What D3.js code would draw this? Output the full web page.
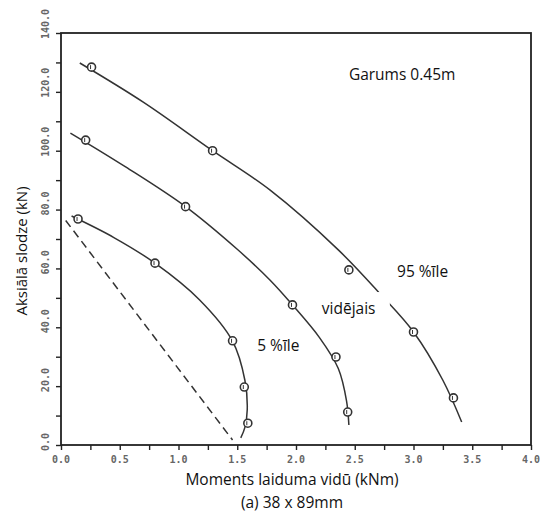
<!DOCTYPE html>
<meta charset="utf-8">
<script src="https://d3js.org/d3.v7.min.js"></script>
<style>
  body { margin: 0; background: #fff; }
</style>
<div id="my_dataviz"></div>
<script>

// markers: [moment kNm, load kN]
var p95Points = [[0.26, 128.4], [1.29, 100.0], [2.45, 59.5], [3.00, 38.4], [3.34, 16.0]];
var meanPoints = [[0.21, 103.6], [1.06, 81.0], [1.97, 47.6], [2.34, 29.9], [2.44, 11.2]];
var p5Points = [[0.145, 76.8], [0.80, 61.8], [1.46, 35.4], [1.56, 19.7], [1.59, 7.4]];

// fitted curves (as traced)
var p95Curve = [[0.16, 129.8], [0.70, 116.5], [1.29, 100.0], [1.78, 86.6], [2.36, 66.3], [2.71, 51.6], [3.00, 38.4], [3.25, 22.0], [3.41, 7.8]];
var meanCurve = [[0.08, 106.0], [0.55, 94.5], [1.06, 81.0], [1.50, 66.5], [1.78, 56.0], [1.97, 47.6], [2.20, 36.5], [2.36, 26.0], [2.43, 15.0], [2.45, 6.8]];
var p5Curve = [[0.09, 77.8], [0.45, 70.5], [0.80, 61.8], [1.18, 49.3], [1.46, 35.3], [1.565, 22.0], [1.585, 12.0], [1.565, 6.0], [1.53, 2.4]];
var dashLine = [[0.04, 76.3], [1.46, 1.7]];

var xTicks = [0, 0.5, 1.0, 1.5, 2.0, 2.5, 3.0, 3.5, 4.0];
var yTicks = [0, 20, 40, 60, 80, 100, 120, 140];

var labels = [
  {text: "Garums 0.45m", x: 2.45, y: 124},
  {text: "95 %īle", x: 2.86, y: 57},
  {text: "vidējais", x: 2.22, y: 44.5},
  {text: "5 %īle", x: 1.67, y: 32}
];

var width = 540, height = 514;
var margin = {top: 33, right: 9, bottom: 69, left: 61};

var svg = d3.select("#my_dataviz")
  .append("svg")
    .attr("width", width)
    .attr("height", height);

var x = d3.scaleLinear().domain([0, 4]).range([margin.left, width - margin.right]);
var y = d3.scaleLinear().domain([0, 140]).range([height - margin.bottom, margin.top]);

var tickFont = "'DejaVu Sans Mono', monospace";

// minor + major ticks
var xAxis = svg.append("g")
  .attr("transform", "translate(0," + y(0) + ")")
  .call(d3.axisBottom(x).tickValues(d3.range(0, 4.01, 0.25)).tickSize(5).tickFormat(""));
xAxis.select(".domain").remove();
xAxis.selectAll("line").attr("stroke", "#222").attr("stroke-width", 1.4);

svg.append("g")
  .selectAll("text")
  .data(xTicks)
  .enter()
  .append("text")
    .attr("x", function(d) { return x(d); })
    .attr("y", y(0) + 18)
    .attr("text-anchor", "middle")
    .style("font-family", tickFont)
    .style("font-size", "10px")
    .style("font-weight", "bold")
    .style("fill", "#666")
    .text(function(d) { return d3.format(".1f")(d); });

var yAxis = svg.append("g")
  .attr("transform", "translate(" + x(0) + ",0)")
  .call(d3.axisLeft(y).tickValues(d3.range(0, 141, 10)).tickSize(5).tickFormat(""));
yAxis.select(".domain").remove();
yAxis.selectAll("line").attr("stroke", "#222").attr("stroke-width", 1.4);

svg.append("g")
  .selectAll("text")
  .data(yTicks)
  .enter()
  .append("text")
    .attr("transform", function(d) { return "translate(49," + (y(d) + 6) + ") rotate(-90)"; })
    .attr("text-anchor", "start")
    .style("font-family", tickFont)
    .style("font-size", "10px")
    .style("font-weight", "bold")
    .style("fill", "#666")
    .text(function(d) { return d3.format(".1f")(d); });

// frame
svg.append("rect")
  .attr("x", x(0))
  .attr("y", y(140))
  .attr("width", x(4) - x(0))
  .attr("height", y(0) - y(140))
  .attr("fill", "none")
  .attr("stroke", "#222")
  .attr("stroke-width", 1.8);

var line = d3.line()
  .x(function(d) { return x(d[0]); })
  .y(function(d) { return y(d[1]); })
  .curve(d3.curveCatmullRom.alpha(0.5));

[p95Curve, meanCurve, p5Curve].forEach(function(c) {
  svg.append("path")
    .datum(c)
    .attr("d", line)
    .attr("fill", "none")
    .attr("stroke", "#333")
    .attr("stroke-width", 1.5);
});

svg.append("path")
  .datum(dashLine)
  .attr("d", d3.line().x(function(d) { return x(d[0]); }).y(function(d) { return y(d[1]); }))
  .attr("fill", "none")
  .attr("stroke", "#333")
  .attr("stroke-width", 1.5)
  .attr("stroke-dasharray", "8,5");

// markers
var allPoints = p95Points.concat(meanPoints, p5Points);
var marks = svg.append("g")
  .selectAll("g")
  .data(allPoints)
  .enter()
  .append("g")
    .attr("transform", function(d) { return "translate(" + x(d[0]) + "," + y(d[1]) + ")"; });
marks.append("circle")
  .attr("r", 4)
  .attr("fill", "white")
  .attr("stroke", "#333")
  .attr("stroke-width", 1.6);
marks.append("line")
  .attr("x1", -1).attr("x2", -1)
  .attr("y1", -2).attr("y2", 2)
  .attr("stroke", "#333")
  .attr("stroke-width", 1);

// annotations
var labelFont = "'Open Sans', Lato, sans-serif";
var vid = labels[2];
svg.append("rect")
  .attr("x", x(vid.x) - 10)
  .attr("y", y(vid.y) - 22)
  .attr("width", 78)
  .attr("height", 34)
  .attr("fill", "white");

svg.append("g")
  .selectAll("text")
  .data(labels)
  .enter()
  .append("text")
    .attr("x", function(d) { return x(d.x); })
    .attr("y", function(d) { return y(d.y); })
    .style("font-family", labelFont)
    .style("font-size", "15.5px")
    .style("fill", "#111")
    .text(function(d) { return d.text; });

// axis titles
svg.append("text")
  .attr("x", 292)
  .attr("y", 485)
  .attr("text-anchor", "middle")
  .style("font-family", labelFont)
  .style("font-size", "15.5px")
  .style("fill", "#111")
  .text("Moments laiduma vidū (kNm)");

svg.append("text")
  .attr("x", 292)
  .attr("y", 508)
  .attr("text-anchor", "middle")
  .style("font-family", labelFont)
  .style("font-size", "15.5px")
  .style("fill", "#111")
  .text("(a) 38 x 89mm");

svg.append("text")
  .attr("transform", "translate(27,251) rotate(-90)")
  .attr("text-anchor", "middle")
  .style("font-family", labelFont)
  .style("font-size", "15px")
  .style("fill", "#111")
  .text("Aksiālā slodze (kN)");

</script>
